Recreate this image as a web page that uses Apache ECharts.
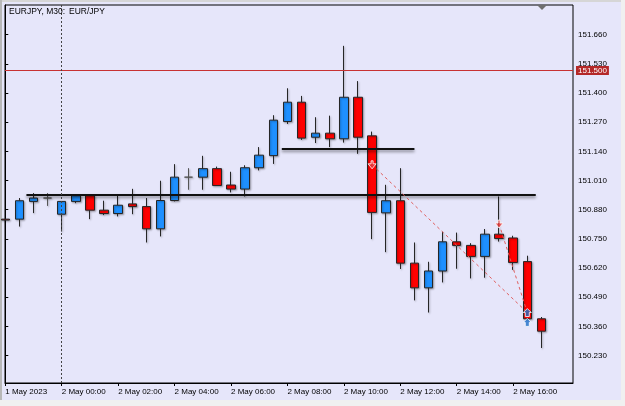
<!DOCTYPE html>
<html>
<head>
<meta charset="utf-8">
<script src="https://cdn.jsdelivr.net/npm/echarts@6/dist/echarts.min.js"></script>
<style>
html, body { margin: 0; padding: 0; background: #f0f0f0; }
#main { width: 625px; height: 406px; }
</style>
</head>
<body>
<div id="main"></div>
<script>
// EURJPY M30, 1 May 22:00 .. 2 May 17:00 (bar index 0..38)
const opens  = [150.838, 150.838, 150.917, 150.932, 150.860, 150.917, 150.942, 150.878, 150.863, 150.906,
                150.894, 150.795, 150.921, 151.025, 151.025, 151.063, 150.990, 150.972, 151.067, 151.121,
                151.273, 151.359, 151.203, 151.221, 151.196, 151.381, 151.209, 150.866, 150.920, 150.642,
                150.532, 150.607, 150.737, 150.721, 150.672, 150.771, 150.754, 150.649, 150.394];
const closes = [150.834, 150.920, 150.932, 150.932, 150.917, 150.942, 150.878, 150.863, 150.900, 150.894,
                150.795, 150.921, 151.025, 151.025, 151.063, 150.988, 150.972, 151.067, 151.123, 151.279,
                151.359, 151.199, 151.221, 151.196, 151.381, 151.203, 150.868, 150.920, 150.642, 150.532,
                150.607, 150.737, 150.721, 150.672, 150.771, 150.752, 150.645, 150.394, 150.339];
const lows   = [150.832, 150.805, 150.865, 150.897, 150.783, 150.909, 150.838, 150.856, 150.850, 150.860,
                150.734, 150.761, 150.917, 150.969, 150.969, 150.988, 150.957, 150.939, 151.055, 151.084,
                151.262, 151.191, 151.177, 151.159, 151.179, 151.129, 150.749, 150.691, 150.616, 150.476,
                150.422, 150.556, 150.617, 150.574, 150.577, 150.738, 150.612, 150.390, 150.264];
const highs  = [150.840, 150.932, 150.954, 150.954, 150.918, 150.944, 150.944, 150.920, 150.942, 150.973,
                150.932, 151.009, 151.083, 151.065, 151.120, 151.072, 151.049, 151.078, 151.159, 151.301,
                151.421, 151.387, 151.292, 151.299, 151.610, 151.453, 151.228, 150.991, 151.065, 150.734,
                150.648, 150.782, 150.778, 150.731, 150.794, 150.939, 150.764, 150.675, 150.402];

const xTickIdx    = [0, 4, 8, 12, 16, 20, 24, 28, 32, 36];
const xTickLabels = ['1 May 2023', '2 May 00:00', '2 May 02:00', '2 May 04:00', '2 May 06:00',
                     '2 May 08:00', '2 May 10:00', '2 May 12:00', '2 May 14:00', '2 May 16:00'];
const yTicks = [150.23, 150.36, 150.49, 150.62, 150.75, 150.88, 151.01, 151.14, 151.27, 151.40, 151.53, 151.66];

const priceLevel = 151.500;
const daySeparator = 4;
// [from bar, to bar, price]
const levelLines = [[1.5, 37.6, 150.946], [19.6, 29.0, 151.150]];
// [open bar, open price, close bar, close price]
const trades = [[26, 151.080, 37, 150.422], [35, 150.816, 37, 150.422]];
const closeMarks = [[37, 150.422], [37, 150.378]];

const font = 'Liberation Sans, Arial, sans-serif';
const candles = opens.map((o, i) => [i, o, closes[i], lows[i], highs[i]]);

const chart = echarts.init(document.getElementById('main'));

const series = [
    {
        type: 'candlestick',
        data: candles,
        encode: { x: 0, y: [1, 2, 3, 4] },
        barWidth: 9,
        itemStyle: {
            color: '#1e90ff',
            color0: '#ff0000',
            borderColor: '#262626',
            borderColor0: '#262626',
            borderColorDoji: '#555',
            borderWidth: 1,
            shadowColor: 'rgba(0,0,0,0.3)',
            shadowBlur: 2,
            shadowOffsetX: 1,
            shadowOffsetY: 1
        },
        markLine: {
            silent: true,
            symbol: 'none',
            animation: false,
            data: [
                {
                    yAxis: priceLevel,
                    lineStyle: { color: '#c83232', width: 1, type: 'solid' },
                    label: {
                        show: true,
                        position: 'end',
                        distance: 3,
                        formatter: priceLevel.toFixed(3),
                        color: '#fff',
                        backgroundColor: '#b42828',
                        padding: [1, 2, 0, 2],
                        fontSize: 8,
                        fontFamily: font
                    }
                },
                {
                    xAxis: daySeparator,
                    lineStyle: { color: '#444', width: 1, type: [2, 2] },
                    label: { show: false }
                }
            ]
        },
        z: 3
    }
];

levelLines.forEach(l => {
    series.push({
        type: 'line',
        data: [[l[0], l[2]], [l[1], l[2]]],
        symbol: 'none',
        lineStyle: {
            color: '#111',
            width: 2,
            shadowColor: 'rgba(0,0,0,0.45)',
            shadowBlur: 3,
            shadowOffsetY: 2
        },
        z: 4
    });
});

trades.forEach(t => {
    series.push({
        type: 'line',
        data: [[t[0], t[1]], [t[2], t[3]]],
        symbol: 'none',
        lineStyle: { color: '#e06060', width: 1, type: [3, 3] },
        z: 5
    });
});

series.push({
    type: 'scatter',
    data: trades.map(t => [t[0], t[1]]),
    symbol: 'path://M3,0 L5,0 L5,3 L8,3 L4,8 L0,3 L3,3 Z',
    symbolSize: [8, 8],
    itemStyle: { color: '#e63c3c', borderColor: '#fff', borderWidth: 1 },
    z: 6
});

series.push({
    type: 'scatter',
    data: closeMarks,
    symbol: 'path://M4,0 L8,4 L6,4 L6,8 L2,8 L2,4 L0,4 Z',
    symbolSize: [8, 8],
    itemStyle: { color: '#1e6ec8', borderColor: '#fff', borderWidth: 1 },
    z: 6
});

const option = {
    backgroundColor: '#e6e6fa',
    animation: false,
    title: [
        { text: 'EURJPY, M30:', left: 9, top: 7, padding: 0,
          textStyle: { fontSize: 8.5, fontWeight: 'normal', fontFamily: font, color: '#000' } },
        { text: 'EUR/JPY', left: 69, top: 7, padding: 0,
          textStyle: { fontSize: 8.5, fontWeight: 'normal', fontFamily: font, color: '#000' } }
    ],
    grid: {
        left: 5, right: 52, top: 5, bottom: 23,
        show: true,
        borderColor: '#000',
        borderWidth: 1
    },
    xAxis: {
        type: 'value',
        min: -0.02,
        max: 40.24,
        splitLine: { show: false },
        axisLine: { show: true, lineStyle: { color: '#000' } },
        axisTick: { show: true, length: 3, customValues: xTickIdx, lineStyle: { color: '#000' } },
        axisLabel: {
            customValues: xTickIdx,
            formatter: v => xTickLabels[xTickIdx.indexOf(Math.round(v))],
            align: 'left',
            margin: 5,
            fontSize: 8,
            fontFamily: font,
            color: '#000'
        }
    },
    yAxis: {
        type: 'value',
        position: 'right',
        min: 150.108,
        max: 151.792,
        scale: true,
        splitLine: { show: false },
        axisLine: { show: true, lineStyle: { color: '#000' } },
        axisTick: { show: true, length: 3, customValues: yTicks, lineStyle: { color: '#000' } },
        axisLabel: {
            customValues: yTicks,
            formatter: v => v.toFixed(3),
            margin: 5,
            fontSize: 8,
            fontFamily: font,
            color: '#000'
        }
    },
    graphic: [
        { type: 'rect', shape: { x: 0, y: 0, width: 625, height: 2 }, style: { fill: '#d6d6d6' } },
        { type: 'rect', shape: { x: 0, y: 0, width: 2, height: 406 }, style: { fill: '#b8b8b8' } },
        { type: 'rect', shape: { x: 621, y: 0, width: 4, height: 406 }, style: { fill: '#f0f0f0' } },
        { type: 'rect', shape: { x: 0, y: 400, width: 625, height: 6 }, style: { fill: '#f0f0f0' } },
        { type: 'polygon', shape: { points: [[537, 5], [547, 5], [542, 10]] }, style: { fill: '#6e6e6e' } }
    ],
    series: series
};

chart.setOption(option);
</script>
</body>
</html>
